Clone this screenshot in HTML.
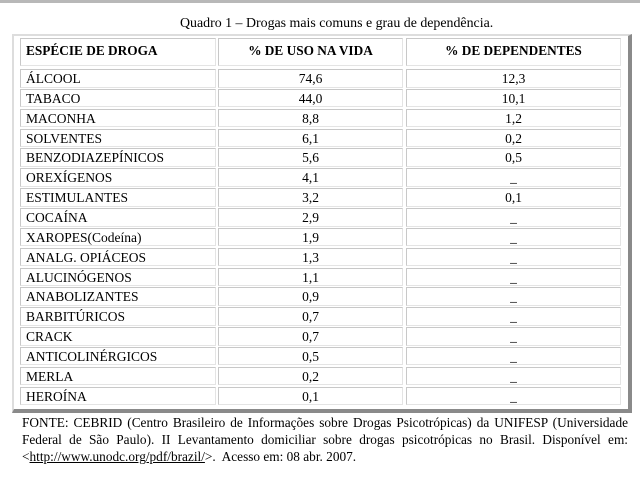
<!DOCTYPE html>
<html><head><meta charset="utf-8"><style>
body{margin:0;width:640px;height:480px;background:#fff;position:relative;overflow:hidden;font-family:"Liberation Serif",serif;color:#000}
.bar{position:absolute;left:0;top:0;width:640px;height:3px;background:#b8b8b8}
.t{position:absolute;font-size:13.9px;white-space:nowrap}
.outer{position:absolute;left:12px;top:34px;width:614px;height:373px;border-top:2px solid #ddd;border-left:2px solid #ddd;border-right:4px solid #8a8a8a;border-bottom:4px solid #8a8a8a}
.c{position:absolute;box-sizing:border-box;border:1.5px solid #c8c8c8;border-right-color:#e4e4e4;border-bottom-color:#e4e4e4;font-size:13.5px;line-height:17px;white-space:nowrap}
.l{padding-left:5px}.m{text-align:center}
.h{font-weight:bold;font-size:13.3px}
.foot{position:absolute;left:22px;top:414px;width:606px;font-size:13.3px;line-height:17px;text-align:justify}
</style></head><body>
<div class="bar"></div>
<div class="t" style="left:180px;top:16px">Quadro 1 – Drogas mais comuns e grau de dependência.</div>
<div class="outer"></div>
<div class="c l h" style="left:20px;top:38px;width:196px;height:28px;padding-top:3px">ESPÉCIE DE DROGA</div>
<div class="c m h" style="left:218px;top:38px;width:185px;height:28px;padding-top:3px">% DE USO NA VIDA</div>
<div class="c m h" style="left:406px;top:38px;width:215px;height:28px;padding-top:3px">% DE DEPENDENTES</div>
<div id="rows"></div>
<div class="foot">FONTE: CEBRID (Centro Brasileiro de Informações sobre Drogas Psicotrópicas) da UNIFESP (Universidade Federal de São Paulo). II Levantamento domiciliar sobre drogas psicotrópicas no Brasil. Disponível em: &lt;<u>http://www.unodc.org/pdf/brazil/</u>&gt;.&nbsp; Acesso em: 08 abr. 2007.</div>
<script>
var d=[["ÁLCOOL","74,6","12,3"],["TABACO","44,0","10,1"],["MACONHA","8,8","1,2"],["SOLVENTES","6,1","0,2"],["BENZODIAZEPÍNICOS","5,6","0,5"],["OREXÍGENOS","4,1","_"],["ESTIMULANTES","3,2","0,1"],["COCAÍNA","2,9","_"],["XAROPES(Codeína)","1,9","_"],["ANALG. OPIÁCEOS","1,3","_"],["ALUCINÓGENOS","1,1","_"],["ANABOLIZANTES","0,9","_"],["BARBITÚRICOS","0,7","_"],["CRACK","0,7","_"],["ANTICOLINÉRGICOS","0,5","_"],["MERLA","0,2","_"],["HEROÍNA","0,1","_"]];
var h="";
d.forEach(function(r,i){var y=(69+i*19.85).toFixed(1);
h+='<div class="c l" style="left:20px;top:'+y+'px;width:196px;height:18.5px">'+r[0]+'</div>';
h+='<div class="c m" style="left:218px;top:'+y+'px;width:185px;height:18.5px">'+r[1]+'</div>';
h+='<div class="c m" style="left:406px;top:'+y+'px;width:215px;height:18.5px">'+r[2]+'</div>';});
document.getElementById("rows").innerHTML=h;
</script>
</body></html>
